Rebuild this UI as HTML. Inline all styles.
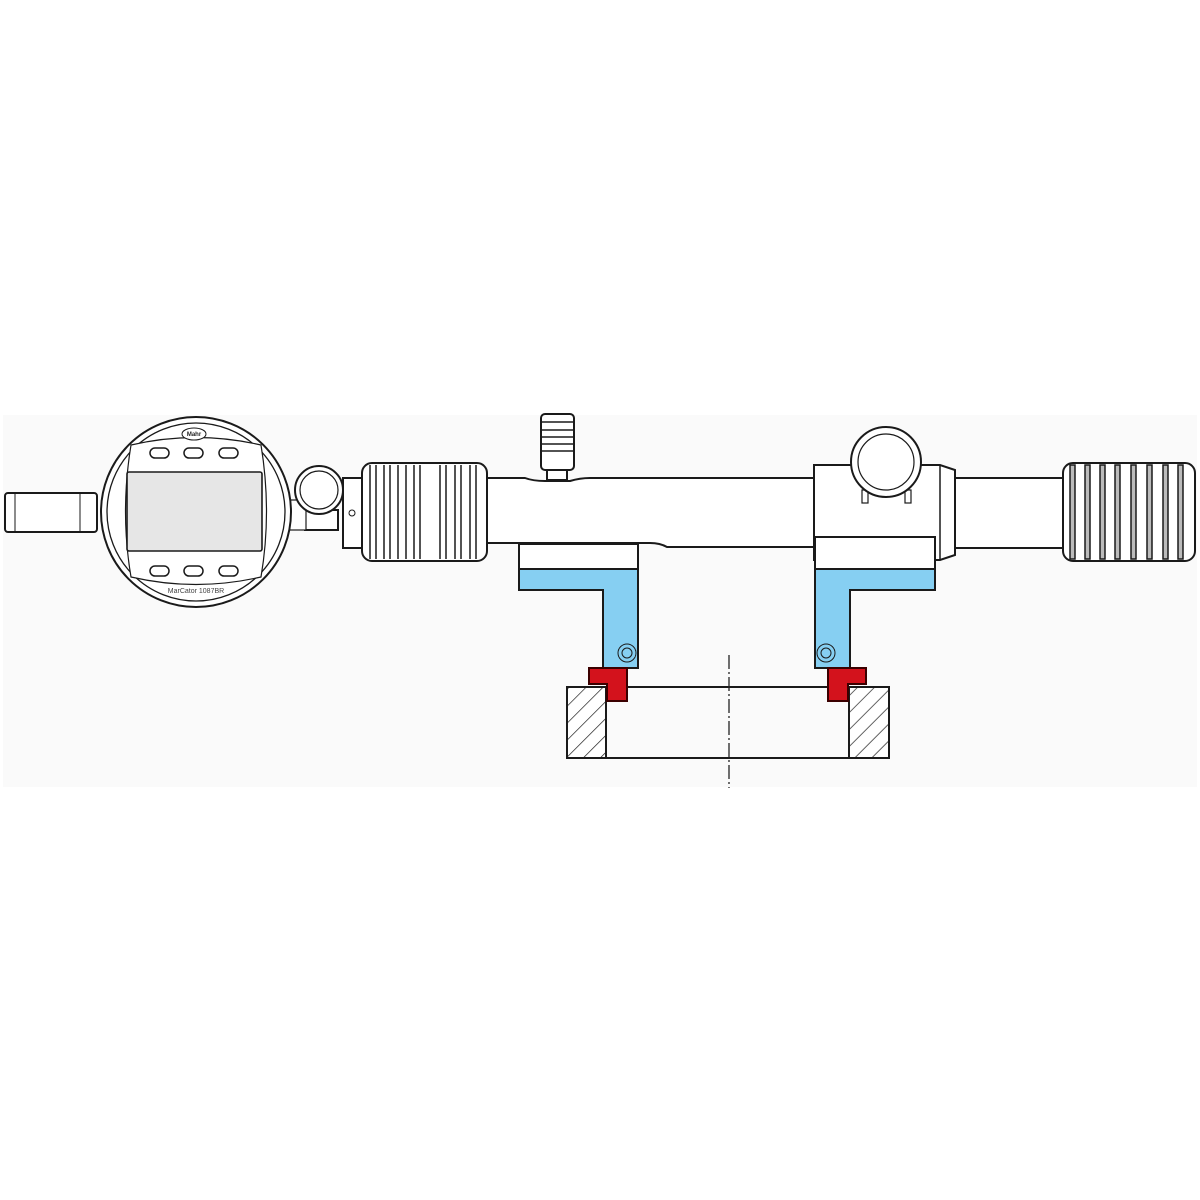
<!DOCTYPE html>
<html><head><meta charset="utf-8"><style>html,body{margin:0;padding:0;background:#fff}svg{display:block}</style></head>
<body>
<svg width="1200" height="1200" viewBox="0 0 1200 1200" xmlns="http://www.w3.org/2000/svg" font-family="Liberation Sans, sans-serif">
<defs>
<pattern id="h" patternUnits="userSpaceOnUse" width="12" height="12" patternTransform="rotate(45)">
<rect width="12" height="12" fill="#fff"/><line x1="0" y1="0" x2="0" y2="12" stroke="#222" stroke-width="1.4"/>
</pattern>
</defs>
<rect x="3" y="415" width="1194" height="372" fill="#fafafa"/>
<g stroke="#1a1a1a" stroke-width="2" fill="#fff">
<!-- stem -->
<rect x="5" y="493" width="92" height="39" rx="3"/>
<line x1="15" y1="493" x2="15" y2="532" stroke-width="1"/>
<line x1="80" y1="493" x2="80" y2="532" stroke-width="1"/>
<!-- clamp -->
<rect x="305" y="510" width="33" height="20"/>
<rect x="288" y="500" width="18" height="30" stroke-width="1.2"/>
<circle cx="319" cy="490" r="24"/>
<circle cx="319" cy="490" r="19" stroke-width="1.2"/>
<!-- gauge -->
<circle cx="196" cy="512" r="95"/>
<circle cx="196" cy="512" r="89" stroke-width="1.3"/>
<path d="M131,445 Q196,430 261,445 Q272,512 261,577 Q196,592 131,577 Q120,512 131,445 Z" stroke-width="1.2"/>
<rect x="127" y="472" width="135" height="79" rx="2" fill="#e6e6e6" stroke-width="1.6"/>
<g stroke-width="1.5">
<rect x="150" y="448" width="19" height="10" rx="5"/><rect x="184" y="448" width="19" height="10" rx="5"/><rect x="219" y="448" width="19" height="10" rx="5"/>
<rect x="150" y="566" width="19" height="10" rx="5"/><rect x="184" y="566" width="19" height="10" rx="5"/><rect x="219" y="566" width="19" height="10" rx="5"/>
<ellipse cx="194" cy="434" rx="12" ry="6" stroke-width="1"/>
</g>
<!-- adapter -->
<rect x="343" y="478" width="19" height="70"/>
<circle cx="352" cy="513" r="3" stroke-width="1"/>
<!-- left tube -->
<path d="M487,478 L525,478 Q533,481 545,481 L570,481 Q580,478 590,478 L815,478 L815,547 L667,547 Q660,543 650,543 L560,543 L487,543 Z"/>
<!-- screw -->
<rect x="547" y="468" width="20" height="12"/>
<rect x="541" y="414" width="33" height="56" rx="4"/>
<g stroke-width="1.4"><line x1="541" y1="422" x2="574" y2="422"/><line x1="541" y1="430" x2="574" y2="430"/><line x1="541" y1="437" x2="574" y2="437"/><line x1="541" y1="444" x2="574" y2="444"/><line x1="541" y1="451" x2="574" y2="451"/></g>
<!-- left knurl -->
<rect x="362" y="463" width="125" height="98" rx="10"/>
<g stroke-width="1.5">
<line x1="370" y1="465" x2="370" y2="559"/><line x1="376" y1="465" x2="376" y2="559"/>
<line x1="384" y1="465" x2="384" y2="559"/><line x1="390" y1="465" x2="390" y2="559"/>
<line x1="398" y1="465" x2="398" y2="559"/><line x1="406" y1="465" x2="406" y2="559"/>
<line x1="414" y1="465" x2="414" y2="559"/><line x1="420" y1="465" x2="420" y2="559"/>
<line x1="440" y1="465" x2="440" y2="559"/><line x1="446" y1="465" x2="446" y2="559"/>
<line x1="455" y1="465" x2="455" y2="559"/><line x1="461" y1="465" x2="461" y2="559"/>
<line x1="470" y1="465" x2="470" y2="559"/><line x1="476" y1="465" x2="476" y2="559"/>
</g>
<!-- right tube -->
<rect x="955" y="478" width="110" height="70"/>
<!-- right block -->
<path d="M814,465 L940,465 L955,470 L955,555 L940,560 L814,560 Z"/>
<line x1="940" y1="465" x2="940" y2="560" stroke-width="1.5"/>
<rect x="862" y="490" width="6" height="13" stroke-width="1.2"/>
<rect x="905" y="490" width="6" height="13" stroke-width="1.2"/>
<circle cx="886" cy="462" r="35"/>
<circle cx="886" cy="462" r="28" stroke-width="1.2"/>
<!-- right knurl -->
<rect x="1063" y="463" width="132" height="98" rx="10"/>
<g stroke-width="1.5" fill="#bbb">
<rect x="1070" y="465" width="5" height="94"/><rect x="1085" y="465" width="5" height="94"/><rect x="1100" y="465" width="5" height="94"/><rect x="1115" y="465" width="5" height="94"/><rect x="1131" y="465" width="5" height="94"/><rect x="1147" y="465" width="5" height="94"/><rect x="1163" y="465" width="5" height="94"/><rect x="1178" y="465" width="5" height="94"/>
</g>
<!-- lower blocks -->
<rect x="519" y="544" width="119" height="25"/>
<rect x="815" y="537" width="120" height="32"/>
<!-- blue L -->
<path d="M519,569 L638,569 L638,668 L603,668 L603,590 L519,590 Z" fill="#86cff2"/>
<path d="M815,569 L935,569 L935,590 L850,590 L850,668 L815,668 Z" fill="#86cff2"/>
<g stroke-width="1" fill="none"><circle cx="627" cy="653" r="9"/><circle cx="627" cy="653" r="5"/><circle cx="826" cy="653" r="9"/><circle cx="826" cy="653" r="5"/></g>
<!-- ring -->
<line x1="606" y1="687" x2="849" y2="687"/>
<line x1="606" y1="758" x2="849" y2="758"/>
<rect x="567" y="687" width="39" height="71" fill="url(#h)"/>
<rect x="849" y="687" width="40" height="71" fill="url(#h)"/>
<!-- red -->
<path d="M589,668 L627,668 L627,701 L607,701 L607,684 L589,684 Z" fill="#d3121c" stroke="#3a0000"/>
<path d="M828,668 L866,668 L866,684 L848,684 L848,701 L828,701 Z" fill="#d3121c" stroke="#3a0000"/>
</g>
<line x1="729" y1="655" x2="729" y2="788" stroke="#222" stroke-width="1.3" stroke-dasharray="14,3,2,3"/>
<text x="196" y="593" font-size="7" text-anchor="middle" fill="#444">MarCator 1087BR</text>
<text x="194" y="436" font-size="6" text-anchor="middle" fill="#222" font-weight="bold">Mahr</text>
</svg>
</body></html>
